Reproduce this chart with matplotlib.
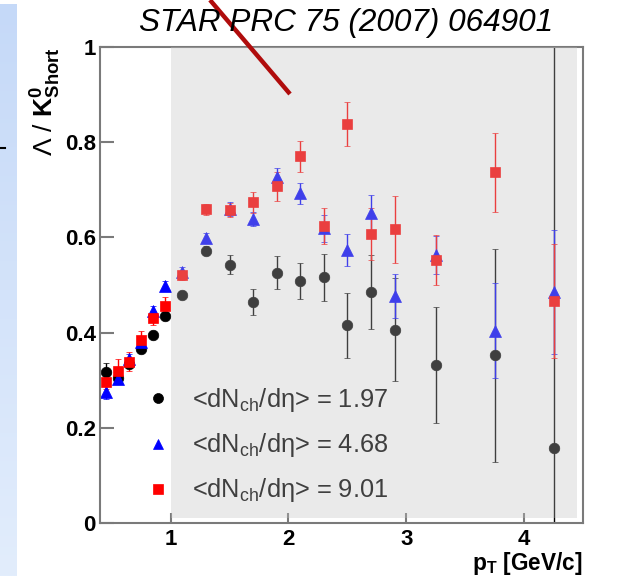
import numpy as np
import matplotlib
matplotlib.use("Agg")
import matplotlib.pyplot as plt
from matplotlib.lines import Line2D
from matplotlib.patches import Rectangle

plt.rcParams['font.family'] = ['Liberation Sans', 'DejaVu Sans']
plt.rcParams['mathtext.fontset'] = 'custom'
plt.rcParams['mathtext.rm'] = 'Liberation Sans'
plt.rcParams['mathtext.it'] = 'Liberation Sans:italic'
plt.rcParams['mathtext.bf'] = 'Liberation Sans:bold'
plt.rcParams['mathtext.sf'] = 'Liberation Sans'

# ---------------- data ----------------
pt = [0.45, 0.55, 0.65, 0.75, 0.85, 0.95, 1.1, 1.3, 1.5, 1.7, 1.9, 2.1, 2.3, 2.5, 2.7, 2.9, 3.25, 3.75, 4.25]

ratio_197 = [0.318, 0.305, 0.335, 0.365, 0.396, 0.435, 0.480, 0.572, 0.543, 0.465, 0.526, 0.509, 0.516,
             0.415, 0.485, 0.406, 0.332, 0.352, 0.157]
err_197 = [0.018, 0.010, 0.010, 0.008, 0.008, 0.008, 0.008, 0.010, 0.019, 0.027, 0.035, 0.038, 0.050,
           0.068, 0.077, 0.108, 0.122, 0.224, 1.000]

ratio_468 = [0.276, 0.302, 0.345, 0.380, 0.446, 0.498, 0.527, 0.599, 0.660, 0.639, 0.726, 0.693, 0.619,
             0.574, 0.651, 0.477, 0.563, 0.404, 0.486]
err_468 = [0.015, 0.010, 0.010, 0.010, 0.010, 0.010, 0.010, 0.010, 0.015, 0.015, 0.020, 0.022, 0.029,
           0.034, 0.038, 0.047, 0.040, 0.100, 0.130]

ratio_901 = [0.297, 0.319, 0.339, 0.384, 0.430, 0.456, 0.520, 0.659, 0.658, 0.674, 0.707, 0.770, 0.624,
             0.838, 0.607, 0.617, 0.553, 0.737, 0.467]
err_901 = [0.015, 0.025, 0.020, 0.020, 0.015, 0.018, 0.010, 0.012, 0.015, 0.022, 0.030, 0.033, 0.037,
           0.046, 0.055, 0.070, 0.052, 0.083, 0.120]

series_labels = ['<dN$_{\\rm ch}$/dη> = 1.97',
                 '<dN$_{\\rm ch}$/dη> = 4.68',
                 '<dN$_{\\rm ch}$/dη> = 9.01']

xtick_vals = [1, 2, 3, 4]
xtick_labels = ['1', '2', '3', '4']
ytick_vals = [0, 0.2, 0.4, 0.6, 0.8, 1.0]
ytick_labels = ['0', '0.2', '0.4', '0.6', '0.8', '1']

title = 'STAR PRC 75 (2007) 064901'

# ---------------- figure ----------------
W, H = 644, 576
fig = plt.figure(figsize=(W / 100, H / 100), dpi=100)

# light blue slide strip on the left
bax = fig.add_axes([0, 0, 17 / W, (H - 4) / H])
grad = np.linspace(0, 1, 256).reshape(-1, 1)
top_c = np.array([197, 217, 248]) / 255
bot_c = np.array([226, 237, 252]) / 255
img = top_c[None, None, :] * (1 - grad[:, :, None]) + bot_c[None, None, :] * grad[:, :, None]
bax.imshow(img, aspect='auto', extent=[0, 1, 0, 1])
bax.axis('off')
fig.add_artist(Line2D([0, 5 / W], [1 - 148 / H, 1 - 148 / H], color='black', lw=1.5))

ax = fig.add_axes([100 / W, 1 - 523 / H, 483 / W, 476 / H])
ax.set_xlim(0.4, 4.5)
ax.set_ylim(0, 1)

styles = [
    (ratio_197, err_197, 'o', 'black', 7.6),
    (ratio_468, err_468, '^', '#0000ff', 8.0),
    (ratio_901, err_901, 's', '#ff0000', 7.4),
]
handles = []
for (vals, errs, mk, col, ms), lab in zip(styles, series_labels):
    ax.errorbar(pt, vals, yerr=errs, fmt=mk, color=col, ms=ms, mew=0.5, mec=col,
                elinewidth=1.0, capsize=2.2, capthick=1.0, zorder=2)
    handles.append(Line2D([], [], marker=mk, color=col, ls='none', ms=ms - 0.4, mec=col, mew=0.5))

leg = ax.legend(handles, series_labels, loc='center left', bbox_to_anchor=(0.094, 0.163),
                frameon=False, fontsize=18.3, handlelength=1.0, handletextpad=0.84,
                labelspacing=0.67, borderpad=0, borderaxespad=0, numpoints=1)
leg.set_zorder(4)

# translucent grey box drawn over the data
ax.add_patch(Rectangle((1.0, 0.0105), 3.45, 0.9895, facecolor=(194 / 255, 194 / 255, 194 / 255),
                       alpha=0.33, edgecolor='none', zorder=10))

spine_col = '#7a7a7a'
for s in ax.spines.values():
    s.set_color(spine_col)
    s.set_linewidth(1.5)

ax.set_xticks(xtick_vals)
ax.set_xticklabels(xtick_labels)
ax.set_yticks(ytick_vals)
ax.set_yticklabels(ytick_labels)
ax.tick_params(axis='both', direction='in', color=spine_col, width=1.5, labelsize=16)
ax.tick_params(axis='y', length=10, pad=3)
ax.tick_params(axis='x', length=7.5, pad=4)
for lbl in ax.get_xticklabels() + ax.get_yticklabels():
    lbl.set_fontweight('bold')

ax.text(-0.113, 1.0, r'$\Lambda$ / $\mathbf{K}^{\mathbf{0}}_{\mathbf{Short}}$', rotation=90,
        ha='center', va='top', transform=ax.transAxes, fontsize=19, fontweight='normal')
ax.text(1.0, -0.057, r'$\mathbf{p}_{\mathbf{T}}$ [GeV/c]', ha='right', va='top',
        transform=ax.transAxes, fontsize=16.3, fontweight='bold')

fig.text(346 / W, 1 - 23 / H, title, ha='center', va='center', fontsize=22.7, style='italic')

# dark red annotation stroke
fig.add_artist(Line2D([210 / W, 290 / W], [1.0, 1 - 94 / H], color='#b00c0c', lw=3.2,
                      solid_capstyle='butt'))

fig.savefig('out.png', dpi=100)
